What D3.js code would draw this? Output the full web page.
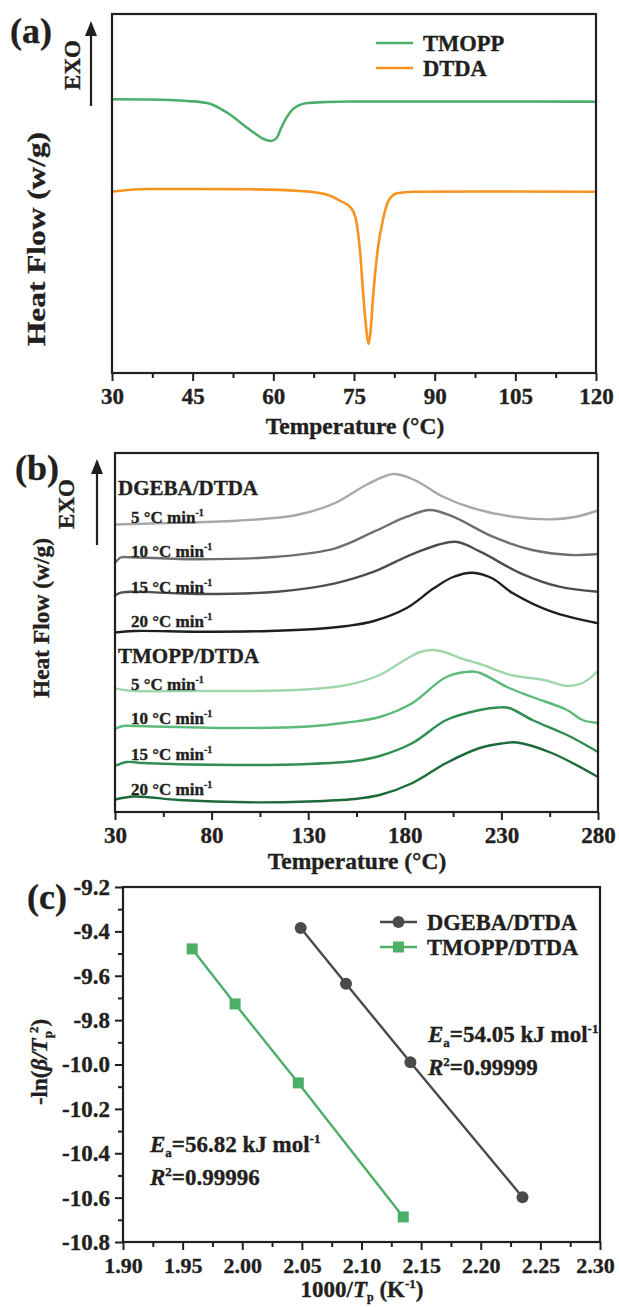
<!DOCTYPE html>
<html>
<head>
<meta charset="utf-8">
<script src="https://cdn.jsdelivr.net/npm/d3@7"></script>
<style>
  body { margin: 0; background: #fff; }
  svg text { font-family: "Liberation Serif", "Times New Roman", serif; font-weight: bold; fill: #231f20;
             stroke: #231f20; stroke-width: 0.35px; }
</style>
</head>
<body>
<svg id="fig" width="619" height="1307"></svg>
<script>
// ---------- (a) DSC of the neat monomers ----------
const tmoppT  = [30, 37, 44, 47.7, 51.5, 55.2, 57, 58.3, 59.6, 60.6, 61.3, 62, 63.9, 66.4, 70, 74.5, 90, 105, 120];
const tmoppHF = [27.37, 27.35, 27.2, 27.0, 26.0, 24.5, 23.8, 23.37, 23.2, 23.5, 24.3, 25.1, 26.5, 27.0, 27.1, 27.15, 27.15, 27.15, 27.13];
const dtdaT   = [30, 33, 37, 45, 55.8, 65, 68, 70.7, 72.3, 74.5, 75.3, 76.1, 76.8, 77.3, 77.7, 78.1, 78.5, 79.4, 80.5, 81.5, 83, 86, 100, 120];
const dtdaHF  = [18.13, 18.3, 18.4, 18.4, 18.37, 18.2, 18.05, 17.7, 17.25, 16.47, 15.5, 12.3, 7.3, 4.3, 2.9, 4.3, 7.3, 12.3, 15.63, 17.3, 17.97, 18.13, 18.15, 18.13];
const ticksA  = [30, 45, 60, 75, 90, 105, 120];

// ---------- (b) non-isothermal curing scans ----------
const dgeba5T   = [30, 52, 93, 124, 144, 160, 174, 185, 199, 215, 236, 256, 268, 280];
const dgeba5HF  = [28.75, 28.87, 29.13, 29.7, 30.9, 32.7, 33.8, 33.2, 31.6, 30.4, 29.53, 29.27, 29.5, 30.15];
const dgeba10T  = [30, 33, 38, 73, 114, 144, 164, 181, 193, 205, 225.5, 246, 266, 280];
const dgeba10HF = [24.9, 25.45, 25.47, 25.27, 25.53, 26.37, 28.03, 29.53, 30.2, 29.53, 27.53, 26.2, 25.7, 25.8];
const dgeba15T  = [30, 33, 38, 73, 114, 144, 164, 185, 206, 219, 240, 260, 280];
const dgeba15HF = [21.65, 21.93, 22.03, 21.8, 22.03, 22.87, 24.03, 25.87, 27.03, 26.03, 23.87, 22.53, 22.03];
const dgeba20T  = [30, 40, 73, 110, 134, 150, 164, 181, 195, 205, 215, 225, 236, 256, 280];
const dgeba20HF = [17.95, 18.1, 18.03, 18.1, 18.3, 18.6, 19.1, 20.4, 22.37, 23.5, 23.93, 23.4, 21.87, 20.03, 18.87];

const tmopp5T   = [30, 38, 73, 124, 150, 167, 180, 188, 195, 202, 210, 219, 235, 252, 264, 272, 280];
const tmopp5HF  = [12.37, 12.13, 12.1, 12.2, 12.7, 13.7, 15.2, 16.0, 16.2, 15.9, 15.3, 14.8, 13.7, 13.2, 12.6, 12.9, 14.1];
const tmopp10T  = [30, 34, 40, 93, 130, 150, 167, 184, 201.5, 215, 219, 234, 246, 264, 272, 280];
const tmopp10HF = [8.3, 8.6, 8.6, 8.4, 8.55, 8.95, 9.5, 10.9, 13.5, 14.05, 13.9, 12.4, 11.5, 10.2, 9.2, 8.9];
const tmopp15T  = [30, 36, 44, 93, 130, 154, 167, 184, 201.5, 218.8, 228.5, 234, 246, 264, 280];
const tmopp15HF = [4.6, 5.0, 4.9, 4.7, 4.8, 5.1, 5.6, 6.9, 9.2, 10.2, 10.45, 10.4, 9.2, 7.7, 6.0];
const tmopp20T  = [30, 40, 63, 99, 130, 154, 167, 184, 201.5, 218.8, 230, 238, 256, 280];
const tmopp20HF = [1.25, 1.55, 1.2, 0.97, 1.05, 1.3, 1.7, 2.9, 4.9, 6.4, 6.85, 6.95, 5.9, 3.5];
const ticksB    = [30, 80, 130, 180, 230, 280];
const rateLabels = ["5", "10", "15", "20"];

// ---------- (c) Kissinger plot ----------
const invTpDGEBA = [2.049, 2.087, 2.141, 2.235];
const lnDGEBA    = [-9.385, -9.636, -9.990, -10.598];
const invTpTMOPP = [1.958, 1.994, 2.047, 2.135];
const lnTMOPP    = [-9.479, -9.727, -10.083, -10.687];
const ticksCx    = [1.90, 1.95, 2.00, 2.05, 2.10, 2.15, 2.20, 2.25, 2.30];
const ticksCy    = [-10.8, -10.6, -10.4, -10.2, -10.0, -9.8, -9.6, -9.4, -9.2];
const fitDGEBA   = { ea: "54.05", r2: "0.99999" };
const fitTMOPP   = { ea: "56.82", r2: "0.99996" };

const INK = "#231f20";
const svg = d3.select("#fig");

function box(x, y) {
  const [x0, x1] = x.range(), [y0, y1] = y.range();
  svg.append("rect")
    .attr("x", x0).attr("y", y1).attr("width", x1 - x0).attr("height", y0 - y1)
    .attr("fill", "none").attr("stroke", INK).attr("stroke-width", 2.2);
}

function styleAxis(g, size) {
  g.select(".domain").remove();
  g.selectAll(".tick line").attr("stroke", INK).attr("stroke-width", 2);
  g.selectAll(".tick text").attr("fill", INK).style("font-size", size + "px");
}

function bottomAxis(x, y, major, minor, fmt, size) {
  const yb = y.range()[0];
  svg.append("g").attr("transform", `translate(0,${yb})`)
    .call(d3.axisBottom(x).tickValues(minor).tickSize(5).tickFormat(""))
    .call(g => styleAxis(g, size));
  return svg.append("g").attr("transform", `translate(0,${yb})`)
    .call(d3.axisBottom(x).tickValues(major).tickSize(8).tickPadding(7).tickFormat(fmt))
    .call(g => styleAxis(g, size));
}

function curve(x, y, T, V, color, w, shape) {
  const line = d3.line().x(d => x(d[0])).y(d => y(d[1])).curve(shape);
  svg.append("path").datum(d3.zip(T, V))
    .attr("d", line).attr("fill", "none").attr("stroke", color)
    .attr("stroke-width", w).attr("stroke-linejoin", "round").attr("stroke-linecap", "round");
}

function rotLabel(x, yc, len, size, text) {
  svg.append("text")
    .attr("transform", `translate(${x},${yc}) rotate(-90)`)
    .attr("text-anchor", "middle").style("font-size", size + "px")
    .attr("textLength", len).attr("lengthAdjust", "spacingAndGlyphs")
    .text(text);
}

function exoArrow(x, yTip, yTail, textX, textY) {
  svg.append("line").attr("x1", x).attr("x2", x).attr("y1", yTail).attr("y2", yTip + 12)
    .attr("stroke", INK).attr("stroke-width", 2.2);
  svg.append("path").attr("d", `M${x},${yTip} L${x - 6},${yTip + 15} L${x + 6},${yTip + 15} Z`).attr("fill", INK);
  svg.append("text").attr("transform", `translate(${textX},${textY}) rotate(-90)`)
    .attr("text-anchor", "middle").style("font-size", "23px").text("EXO");
}

function panelTag(x, y, t) {
  svg.append("text").attr("x", x).attr("y", y).style("font-size", "36px").text(t);
}

function rateText(x, y, rate) {
  const t = svg.append("text").attr("x", x).attr("y", y).style("font-size", "17px");
  t.append("tspan").text(rate + " \u00B0C min");
  t.append("tspan").attr("dy", -7).style("font-size", "10px").text("-1");
}

// ===== panel (a) =====
const xA = d3.scaleLinear().domain([30, 120]).range([112, 596]);
const yA = d3.scaleLinear().domain([0, 35.9]).range([373, 14]);
curve(xA, yA, tmoppT, tmoppHF, "#4cae6b", 2.6, d3.curveMonotoneX);
curve(xA, yA, dtdaT, dtdaHF, "#f7931e", 2.6, d3.curveMonotoneX);
box(xA, yA);
bottomAxis(xA, yA, ticksA, d3.range(37.5, 120, 15), d3.format("d"), 23);
svg.append("text").attr("x", 355).attr("y", 434).attr("text-anchor", "middle")
  .style("font-size", "23.5px").text("Temperature (\u00B0C)");
rotLabel(45, 239, 214, 25, "Heat Flow (w/g)");
exoArrow(91, 21, 106, 80, 65);
panelTag(10, 43, "(a)");

[["TMOPP", "#4cae6b", 43], ["DTDA", "#f7931e", 68]].forEach(([name, c, y]) => {
  svg.append("line").attr("x1", 376).attr("x2", 413).attr("y1", y).attr("y2", y)
    .attr("stroke", c).attr("stroke-width", 2.6);
  svg.append("text").attr("x", 423).attr("y", y + 8).style("font-size", "22.5px").text(name);
});

// ===== panel (b) =====
const xB = d3.scaleLinear().domain([30, 280]).range([115, 598]);
const yB = d3.scaleLinear().domain([0, 35.9]).range([812, 453]);
const bSeries = [
  [dgeba5T, dgeba5HF, "#a8a8a8"], [dgeba10T, dgeba10HF, "#6e6e6e"],
  [dgeba15T, dgeba15HF, "#4e4e4e"], [dgeba20T, dgeba20HF, "#1f1f1f"],
  [tmopp5T, tmopp5HF, "#9ed7ab"], [tmopp10T, tmopp10HF, "#5cba7b"],
  [tmopp15T, tmopp15HF, "#2f8d53"], [tmopp20T, tmopp20HF, "#1d6a3a"]
];
bSeries.forEach(([T, V, c]) => curve(xB, yB, T, V, c, 2.4, d3.curveCatmullRom.alpha(0.5)));
box(xB, yB);
bottomAxis(xB, yB, ticksB, d3.range(55, 280, 50), d3.format("d"), 23);
svg.append("text").attr("x", 357).attr("y", 869).attr("text-anchor", "middle")
  .style("font-size", "23.5px").text("Temperature (\u00B0C)");
rotLabel(49, 618, 160, 23.5, "Heat Flow (w/g)");
exoArrow(97, 459, 545, 74, 504);
panelTag(15, 480, "(b)");

svg.append("text").attr("x", 118).attr("y", 495).style("font-size", "21px").text("DGEBA/DTDA");
svg.append("text").attr("x", 118).attr("y", 663).style("font-size", "21px").text("TMOPP/DTDA");
const dgebaLabelY = [523, 557, 593, 627];
const tmoppLabelY = [690, 724, 760, 795];
rateLabels.forEach((r, i) => { rateText(131, dgebaLabelY[i], r); rateText(131, tmoppLabelY[i], r); });

// ===== panel (c) =====
const xC = d3.scaleLinear().domain([1.9, 2.3]).range([123, 600]);
const yC = d3.scaleLinear().domain([-10.8, -9.2]).range([1242, 887]);
box(xC, yC);
const axC = bottomAxis(xC, yC, ticksCx, d3.range(1.925, 2.3, 0.05), d => d.toFixed(2), 22);
// keep the last label inside the page edge
axC.selectAll(".tick text").filter(d => d > 2.29).attr("dx", -5);
svg.append("g").attr("transform", `translate(123,0)`)
  .call(d3.axisLeft(yC).tickValues(d3.range(-10.7, -9.2, 0.2)).tickSize(5).tickFormat(""))
  .call(g => styleAxis(g, 23));
svg.append("g").attr("transform", `translate(123,0)`)
  .call(d3.axisLeft(yC).tickValues(ticksCy).tickSize(8).tickPadding(5).tickFormat(d => d.toFixed(1)))
  .call(g => styleAxis(g, 23));

const DG = "#4a4a4a", TG = "#4cae67";
const lineC = d3.line().x(d => xC(d[0])).y(d => yC(d[1]));
svg.append("path").datum(d3.zip(invTpDGEBA, lnDGEBA)).attr("d", lineC)
  .attr("fill", "none").attr("stroke", DG).attr("stroke-width", 2.4);
svg.append("path").datum(d3.zip(invTpTMOPP, lnTMOPP)).attr("d", lineC)
  .attr("fill", "none").attr("stroke", TG).attr("stroke-width", 2.4);
svg.selectAll(".dg").data(d3.zip(invTpDGEBA, lnDGEBA)).enter().append("circle")
  .attr("cx", d => xC(d[0])).attr("cy", d => yC(d[1])).attr("r", 6).attr("fill", DG);
svg.selectAll(".tm").data(d3.zip(invTpTMOPP, lnTMOPP)).enter().append("rect")
  .attr("x", d => xC(d[0]) - 5.5).attr("y", d => yC(d[1]) - 5.5)
  .attr("width", 11).attr("height", 11).attr("fill", TG);

[["DGEBA/DTDA", DG, 922, "circle"], ["TMOPP/DTDA", TG, 947, "square"]].forEach(([name, c, y, m]) => {
  svg.append("line").attr("x1", 380).attr("x2", 417).attr("y1", y).attr("y2", y)
    .attr("stroke", c).attr("stroke-width", 2.4);
  if (m === "circle") svg.append("circle").attr("cx", 398.5).attr("cy", y).attr("r", 6).attr("fill", c);
  else svg.append("rect").attr("x", 393).attr("y", y - 5.5).attr("width", 11).attr("height", 11).attr("fill", c);
  svg.append("text").attr("x", 427).attr("y", y + 8).style("font-size", "22.5px").text(name);
});

function fitText(x, y, fit) {
  const a = svg.append("text").attr("x", x).attr("y", y).style("font-size", "23px");
  a.append("tspan").style("font-style", "italic").text("E");
  a.append("tspan").attr("dy", 5).style("font-size", "13px").text("a");
  a.append("tspan").attr("dy", -5).text("=" + fit.ea + " kJ mol");
  a.append("tspan").attr("dy", -9).style("font-size", "13px").text("-1");
  const r = svg.append("text").attr("x", x).attr("y", y + 33).style("font-size", "23px");
  r.append("tspan").style("font-style", "italic").text("R");
  r.append("tspan").attr("dy", -9).style("font-size", "13px").text("2");
  r.append("tspan").attr("dy", 9).text("=" + fit.r2);
}
fitText(428, 1042, fitDGEBA);
fitText(150, 1152, fitTMOPP);

const xt = svg.append("text").attr("x", 362).attr("y", 1297).attr("text-anchor", "middle").style("font-size", "23px");
xt.append("tspan").text("1000/");
xt.append("tspan").style("font-style", "italic").text("T");
xt.append("tspan").attr("dy", 4).style("font-size", "12px").text("p");
xt.append("tspan").attr("dy", -4).text(" (K");
xt.append("tspan").attr("dy", -9).style("font-size", "13px").text("-1");
xt.append("tspan").attr("dy", 9).text(")");

const yt = svg.append("text").attr("transform", "translate(47,1062) rotate(-90)")
  .attr("text-anchor", "middle").style("font-size", "23px");
yt.append("tspan").text("-ln(");
yt.append("tspan").style("font-style", "italic").text("\u03B2/T");
yt.append("tspan").attr("dy", 5).style("font-size", "13px").text("p");
yt.append("tspan").attr("dy", -14).attr("dx", -2).style("font-size", "13px").text("2");
yt.append("tspan").attr("dy", 9).text(")");

panelTag(27, 909, "(c)");
</script>
</body>
</html>
